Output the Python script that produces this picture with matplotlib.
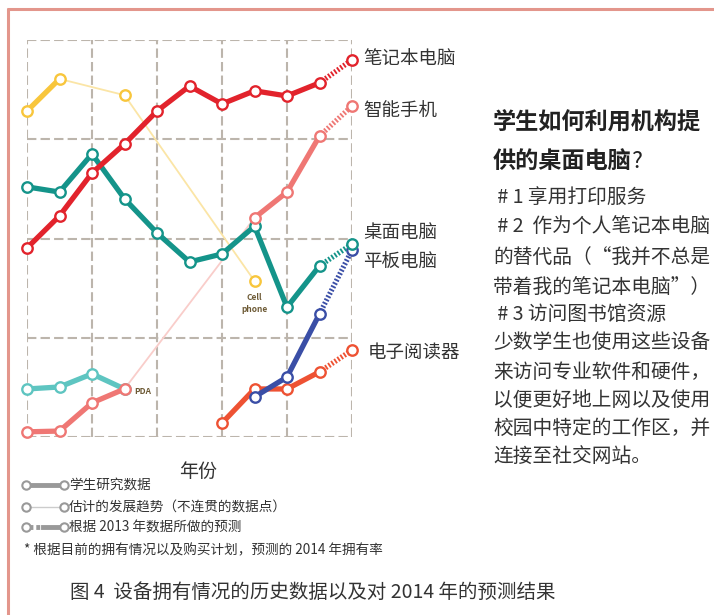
import matplotlib
matplotlib.use("Agg")
import matplotlib.pyplot as plt

plt.rcParams['font.family'] = ['Noto Sans CJK SC', 'DejaVu Sans']

# ownership share per year (0-100 scale), read from the student survey
years = [2004, 2005, 2006, 2007, 2008, 2009, 2010, 2011, 2012, 2013, 2014]
laptop = [47.6, 55.7, 66.5, 73.8, 82.1, 88.4, 83.9, 87.2, 85.9, 89.2, 95.0]
desktop = [63.0, 61.7, 71.3, 60.0, 51.4, 44.1, 46.1, 53.1, 32.7, 43.1, 48.6]

phone_early_years = [2004, 2005, 2006, 2007]
phone_early = [1.3, 1.5, 8.6, 12.1]
phone_late_years = [2011, 2012, 2013, 2014]
phone_late = [55.2, 61.7, 75.8, 83.4]

pda_years = [2004, 2005, 2006, 2007]
pda = [12.1, 12.6, 15.9, 12.1]

cell_years = [2004, 2005]
cell = [82.1, 90.2]
cell_est_years = [2005, 2007, 2011]
cell_est = [90.2, 86.1, 39.3]

tablet_years = [2011, 2012, 2013, 2014]
tablet = [10.1, 15.1, 31.0, 47.1]

ereader_years = [2010, 2011, 2012, 2013, 2014]
ereader = [3.5, 12.1, 12.1, 16.4, 21.9]

RED = '#e2232c'
TEAL = '#14948a'
PINK = '#ef7774'
LTEAL = '#5ec5c1'
YELLOW = '#f8c63c'
BLUE = '#3a4ea6'
ORANGE = '#ee5233'
GRID = '#bcb5ac'
TXT = '#333333'

W, H = 714, 615
fig = plt.figure(figsize=(W / 100, H / 100), dpi=100)
ax = fig.add_axes([27 / W, 1 - 437 / H, (352 - 27) / W, (437 - 40) / H])
ax.set_xlim(2004, 2014)
ax.set_ylim(0, 100)
ax.set_xticks(range(2004, 2015, 2))
ax.set_yticks([0, 25, 50, 75, 100])
ax.tick_params(length=0, labelbottom=False, labelleft=False)
for s in ax.spines.values():
    s.set_visible(False)
ax.grid(True, color=GRID, lw=1.5, dashes=(4.5, 2))
ax.set_axisbelow(True)

LW = 3.8
MK = dict(marker='o', ms=7.5, mfc='white', mew=1.7, clip_on=False)


def series(xs, ys, color, project=True, z=3):
    # solid survey data, dotted projection for the last (2014) step
    end = len(xs) - 1 if project else len(xs)
    ax.plot(xs[:end], ys[:end], color=color, lw=LW, solid_capstyle='round', zorder=z, clip_on=False)
    if project:
        ax.plot(xs[-2:], ys[-2:], color=color, lw=LW, dashes=(0.35, 0.35), zorder=z, clip_on=False)
    ax.plot(xs, ys, color=color, ls='none', zorder=z + 0.5, **MK)


# thin estimated connections between scattered data points
ax.plot(cell_est_years, cell_est, color='#fbe5a6', lw=1.3, zorder=2, clip_on=False)
ax.plot([phone_early_years[-1], phone_late_years[0]], [phone_early[-1], phone_late[0]],
        color='#f9cdca', lw=1.3, zorder=2)
ax.plot(cell_est_years[1:], cell_est[1:], color=YELLOW, ls='none', zorder=2.5, **MK)

series(cell_years, cell, YELLOW, project=False, z=3)
series(pda_years, pda, LTEAL, project=False, z=3)
series(phone_early_years, phone_early, PINK, project=False, z=4)
series(ereader_years, ereader, ORANGE, z=5)
series(tablet_years, tablet, BLUE, z=6)
series(years, desktop, TEAL, z=7)
series(phone_late_years, phone_late, PINK, z=8)
series(years, laptop, RED, z=9)

# overlay in pixel coordinates for border, labels, legend and side text
ov = fig.add_axes([0, 0, 1, 1], zorder=10)
ov.set_xlim(0, W)
ov.set_ylim(H, 0)
ov.axis('off')

ov.plot([7, W], [8.5, 8.5], color='#e3968c', lw=2.2, solid_capstyle='butt')
ov.plot([7.5, 7.5], [8, H], color='#e3968c', lw=2.2, solid_capstyle='butt')

for label, y in [('笔记本电脑', 60), ('智能手机', 112), ('桌面电脑', 233), ('平板电脑', 263)]:
    ov.text(363, y, label, fontsize=13.3, color=TXT, va='center', ha='left')
ov.text(368, 353, '电子阅读器', fontsize=13.3, color=TXT, va='center', ha='left')

ov.text(254, 297, 'Cell', fontsize=6, color='#6d5a35', ha='center', va='center', weight='bold')
ov.text(254, 309, 'phone', fontsize=6, color='#6d5a35', ha='center', va='center', weight='bold')
ov.text(134, 392, 'PDA', fontsize=6, color='#6d5a35', ha='left', va='center', weight='bold')

ov.text(198, 471, '年份', fontsize=13.7, color=TXT, ha='center', va='center')

# legend
LG = '#999999'
lmk = dict(marker='o', ms=6, mfc='white', mec=LG, mew=1.5)
ov.plot([26, 64], [485, 485], color=LG, lw=3.5)
ov.plot([26, 64], [485, 485], ls='none', **lmk)
ov.plot([26, 64], [507, 507], color='#cccccc', lw=1.0)
ov.plot([26, 64], [507, 507], ls='none', **lmk)
ov.plot([29, 42], [527, 527], color=LG, lw=3.5, dashes=(0.8, 0.6))
ov.plot([43, 64], [527, 527], color=LG, lw=3.5)
ov.plot([26, 64], [527, 527], ls='none', **lmk)
legend_text = ['学生研究数据', '估计的发展趋势（不连贯的数据点）', '根据 2013 年数据所做的预测']
for t, y in zip(legend_text, [485, 507, 527]):
    ov.text(69, y, t, fontsize=9.8, color=TXT, va='center', ha='left')
ov.text(24, 550, '* 根据目前的拥有情况以及购买计划，预测的 2014 年拥有率', fontsize=9.8,
        color=TXT, va='center', ha='left')

ov.text(70, 592, '图 4  设备拥有情况的历史数据以及对 2014 年的预测结果', fontsize=14,
        color=TXT, va='center', ha='left')

# side panel
ov.text(493, 123, '学生如何利用机构提', fontsize=16.7, weight='bold', color='#222222',
        va='center', ha='left')
ov.text(493, 162, '供的桌面电脑', fontsize=16.7, weight='bold', color='#222222',
        va='center', ha='left')
ov.text(632, 162, '?', fontsize=16.7, color='#222222', va='center', ha='left')

body = [
    (' # 1 享用打印服务', 197),
    (' # 2  作为个人笔记本电脑', 227),
    ('的替代品（“我并不总是', 258),
    ('带着我的笔记本电脑”）', 288),
    (' # 3 访问图书馆资源', 315),
    ('少数学生也使用这些设备', 343),
    ('来访问专业软件和硬件，', 372),
    ('以便更好地上网以及使用', 400),
    ('校园中特定的工作区，并', 428),
    ('连接至社交网站。', 457),
]
for t, y in body:
    ov.text(493, y, t, fontsize=14.2, color=TXT, va='center', ha='left')

fig.savefig('out.png', dpi=100)
